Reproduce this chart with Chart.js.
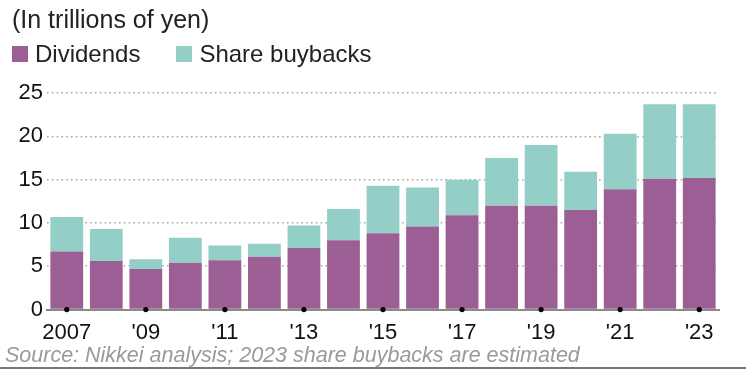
<!DOCTYPE html>
<html>
<head>
<meta charset="utf-8">
<script src="https://cdn.jsdelivr.net/npm/chart.js@4"></script>
<style>
  html, body { margin: 0; padding: 0; background: #fff; }
  #wrap { position: relative; width: 746px; height: 369px; overflow: hidden; font-family: 'Liberation Sans', Arial, sans-serif; }
  #chart { position: absolute; left: 0; top: 0; }
  .title { position: absolute; left: 12px; top: 7px; font-size: 25px; line-height: 25px; color: #222; }
  .legend { position: absolute; left: 12px; top: 42px; display: flex; align-items: center; font-size: 24px; line-height: 24px; color: #222; }
  .legend span.box { display: inline-block; width: 16px; height: 16px; margin-right: 7px; }
  .legend span.item { display: flex; align-items: center; margin-right: 36px; }
  .source { position: absolute; left: 5px; top: 345px; font-size: 21.5px; line-height: 21px; font-style: italic; color: #9a9a9a; }
  .rule { position: absolute; left: 0; right: 0; bottom: 0; height: 2px; background: #777; }
</style>
</head>
<body>
<div id="wrap">
  <canvas id="chart" width="746" height="369"></canvas>
  <div class="title">(In trillions of yen)</div>
  <div class="legend" id="legend"></div>
  <div class="source">Source: Nikkei analysis; 2023 share buybacks are estimated</div>
  <div class="rule"></div>
</div>
<script>
const years = ['2007','2008','2009','2010','2011','2012','2013','2014','2015','2016','2017','2018','2019','2020','2021','2022','2023'];
const tickLabels = ['2007','','\'09','','\'11','','\'13','','\'15','','\'17','','\'19','','\'21','','\'23'];
const dividends = [6.7, 5.6, 4.7, 5.4, 5.7, 6.1, 7.1, 8.0, 8.8, 9.6, 10.9, 12.0, 12.0, 11.5, 13.9, 15.1, 15.2];
const buybacks = [4.0, 3.7, 1.1, 2.9, 1.7, 1.5, 2.6, 3.6, 5.5, 4.5, 4.1, 5.5, 7.0, 4.4, 6.4, 8.6, 8.5];
const yTicks = [0, 5, 10, 15, 20, 25];

const purple = '#9c5f95';
const teal = '#93cfc6';

// dots under the labelled years
const tickDots = tickLabels.map(l => l ? 0 : null);

const legendEl = document.getElementById('legend');
[['Dividends', purple], ['Share buybacks', teal]].forEach(([name, color]) => {
  const item = document.createElement('span');
  item.className = 'item';
  const box = document.createElement('span');
  box.className = 'box';
  box.style.background = color;
  item.appendChild(box);
  item.appendChild(document.createTextNode(name));
  legendEl.appendChild(item);
});

new Chart(document.getElementById('chart'), {
  type: 'bar',
  data: {
    labels: years,
    datasets: [
      { label: 'Dividends', data: dividends, backgroundColor: purple, stack: 'a', order: 2 },
      { label: 'Share buybacks', data: buybacks, backgroundColor: teal, stack: 'a', order: 2 },
      { type: 'line', label: 'ticks', data: tickDots, stack: 'dots', showLine: false,
        pointRadius: 2.6, pointBackgroundColor: '#000', pointBorderWidth: 0, order: 0, clip: false }
    ]
  },
  options: {
    responsive: false,
    animation: false,
    events: [],
    layout: { padding: { top: 93, right: 27, bottom: 21, left: 0 } },
    datasets: { bar: { barPercentage: 0.83, categoryPercentage: 1 } },
    plugins: { legend: { display: false }, tooltip: { enabled: false } },
    scales: {
      x: {
        stacked: true,
        grid: { display: false },
        border: { display: true, color: '#8a8a8a', width: 2 },
        ticks: {
          autoSkip: false, maxRotation: 0, padding: 2, color: '#111',
          font: { family: "'Liberation Sans', Arial, sans-serif", size: 22 },
          callback: (v, i) => tickLabels[i]
        }
      },
      y: {
        stacked: true,
        min: 0, max: 25,
        z: 1,
        afterFit: s => { s.width = 47; },
        afterBuildTicks: s => { s.ticks = yTicks.map(v => ({ value: v })); },
        grid: { color: 'rgba(110,110,110,0.6)', lineWidth: 1.6, drawTicks: false },
        border: { display: false, dash: [1.6, 3.2] },
        ticks: {
          padding: 4, color: '#111',
          font: { family: "'Liberation Sans', Arial, sans-serif", size: 22 }
        }
      }
    }
  }
});
</script>
</body>
</html>
